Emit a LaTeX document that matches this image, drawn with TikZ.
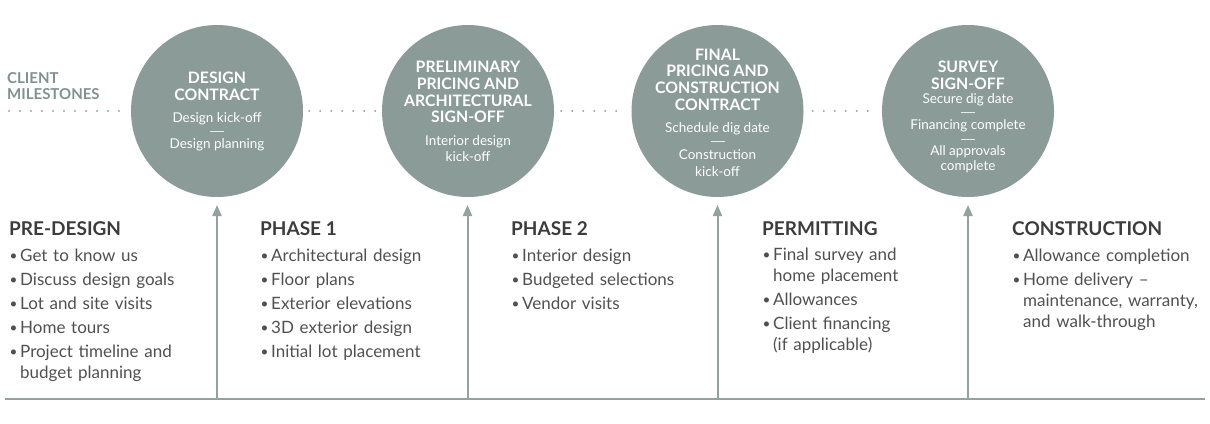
\documentclass[tikz,border=0pt]{standalone}
\usepackage{fontspec}
\setmainfont{Lato}
\usetikzlibrary{arrows.meta}
\definecolor{sage}{RGB}{139,155,152}
\definecolor{lineC}{RGB}{145,162,159}
\definecolor{headC}{RGB}{60,60,60}
\definecolor{bodyC}{RGB}{80,80,80}
\definecolor{labelC}{RGB}{128,146,143}
\newcommand\bul{\makebox[11pt][l]{\hspace{0.5pt}\raisebox{0.8pt}{\scalebox{0.8}{•}}}}
\newcommand\ind{\hspace*{11pt}}
\begin{document}
\begin{tikzpicture}[x=1pt,y=-1pt,
  milestone/.style={circle,fill=sage,minimum size=172pt,inner sep=0pt},
  ctitle/.style={anchor=base,text=white,font=\fontsize{15.8}{17}\selectfont\bfseries,inner sep=0pt},
  csub/.style={anchor=base,text=white,font=\fontsize{13.5}{15}\selectfont,inner sep=0pt},
  crule/.style={white!80!sage,line width=0.8pt},
  phasehead/.style={anchor=base west,text=headC,font=\fontsize{19}{21}\selectfont\bfseries,inner sep=0pt},
  items/.style={anchor=base west,text=bodyC,font=\fontsize{17}{21}\selectfont,inner sep=0pt,text width=240pt,align=left},
  timeline/.style={lineC,line width=2pt},
  uparrow/.style={lineC,line width=2pt,-{Triangle[width=9pt,length=11pt]}},
  dots/.style={sage!85,line width=2.4pt,line cap=round,dash pattern=on 0pt off 11pt},
  milelabel/.style={anchor=base west,text=labelC,font=\fontsize{15}{16}\selectfont\bfseries,inner sep=0pt}]
\useasboundingbox (0,0) rectangle (1210,423);

% client milestones label
\node[milelabel] (ml1) at (7,83) {CLIENT};
\node[milelabel] (ml2) at (7,99.5) {MILESTONES};

% milestone circles
\node[milestone] (c1) at (217,111) {};
\node[milestone] (c2) at (468,111) {};
\node[milestone] (c3) at (717.5,111) {};
\node[milestone] (c4) at (968,111) {};

% dotted connectors
\coordinate (d0) at (9,111);
\draw[dots] (d0) -- ([xshift=-7pt]c1.west);
\draw[dots] ([xshift=6pt]c1.east) -- ([xshift=-6pt]c2.west);
\draw[dots] ([xshift=7pt]c2.east) -- ([xshift=-5pt]c3.west);
\draw[dots] ([xshift=9pt]c3.east) -- ([xshift=-5pt]c4.west);

% circle 1
\node[ctitle] (c1a) at (217,83.3) {DESIGN};
\node[ctitle] (c1b) at (217,100) {CONTRACT};
\node[csub] (c1c) at (217,122.5) {Design kick-off};
\draw[crule] (210,131) -- (224,131);
\node[csub] (c1d) at (217,148) {Design planning};

% circle 2
\node[ctitle] (c2a) at (468,72.3) {PRELIMINARY};
\node[ctitle] (c2b) at (468,89) {PRICING AND};
\node[ctitle] (c2c) at (468,106) {ARCHITECTURAL};
\node[ctitle] (c2d) at (468,122.7) {SIGN-OFF};
\node[csub] (c2e) at (468,145.5) {Interior design};
\node[csub] (c2f) at (468,161.7) {kick-off};

% circle 3
\node[ctitle] (c3a) at (717.5,60) {FINAL};
\node[ctitle] (c3b) at (717.5,76.7) {PRICING AND};
\node[ctitle] (c3c) at (717.5,93.7) {CONSTRUCTION};
\node[ctitle] (c3d) at (717.5,110.5) {CONTRACT};
\node[csub] (c3e) at (717.5,132) {Schedule dig date};
\draw[crule] (710.5,141.7) -- (724.5,141.7);
\node[csub] (c3f) at (717.5,159.5) {Construction};
\node[csub] (c3g) at (717.5,176) {kick-off};

% circle 4
\node[ctitle] (c4a) at (968,72.7) {SURVEY};
\node[ctitle] (c4b) at (968,89.5) {SIGN-OFF};
\node[csub] (c4c) at (968,103) {Secure dig date};
\draw[crule] (961,112) -- (975,112);
\node[csub] (c4d) at (968,129) {Financing complete};
\draw[crule] (961,139) -- (975,139);
\node[csub] (c4e) at (968,155) {All approvals};
\node[csub] (c4f) at (968,170.5) {complete};

% timeline and arrows
\coordinate (tl) at (5,399);
\coordinate (tr) at (1205,399);
\draw[timeline] (tl) -- (tr);
\coordinate (a1b) at (217,399); \coordinate (a1t) at (217,205);
\coordinate (a2b) at (467.5,399); \coordinate (a2t) at (467.5,205);
\coordinate (a3b) at (717.5,399); \coordinate (a3t) at (717.5,205);
\coordinate (a4b) at (968,399); \coordinate (a4t) at (968,205);
\draw[uparrow] (a1b) -- (a1t);
\draw[uparrow] (a2b) -- (a2t);
\draw[uparrow] (a3b) -- (a3t);
\draw[uparrow] (a4b) -- (a4t);

% phases
\node[phasehead] (h0) at (9,235) {PRE-DESIGN};
\node[items] (l0) at (9,261) {\bul Get to know us\\[3pt]\bul Discuss design goals\\[3pt]\bul Lot and site visits\\[3pt]\bul Home tours\\[3pt]\bul Project timeline and\\\ind budget planning};

\node[phasehead] (h1) at (260,235) {PHASE 1};
\node[items] (l1) at (260,261) {\bul Architectural design\\[3pt]\bul Floor plans\\[3pt]\bul Exterior elevations\\[3pt]\bul 3D exterior design\\[3pt]\bul Initial lot placement};

\node[phasehead] (h2) at (511,235) {PHASE 2};
\node[items] (l2) at (511,261) {\bul Interior design\\[3pt]\bul Budgeted selections\\[3pt]\bul Vendor visits};

\node[phasehead] (h3) at (762,235) {PERMITTING};
\node[items] (l3) at (762,260) {\bul Final survey and\\\ind home placement\\[3pt]\bul Allowances\\[3pt]\bul Client financing\\\ind (if applicable)};

\node[phasehead] (h4) at (1012,235) {CONSTRUCTION};
\node[items] (l4) at (1012,261) {\bul Allowance completion\\[3pt]\bul Home delivery –\\\ind maintenance, warranty,\\\ind and walk-through};
\end{tikzpicture}
\end{document}
